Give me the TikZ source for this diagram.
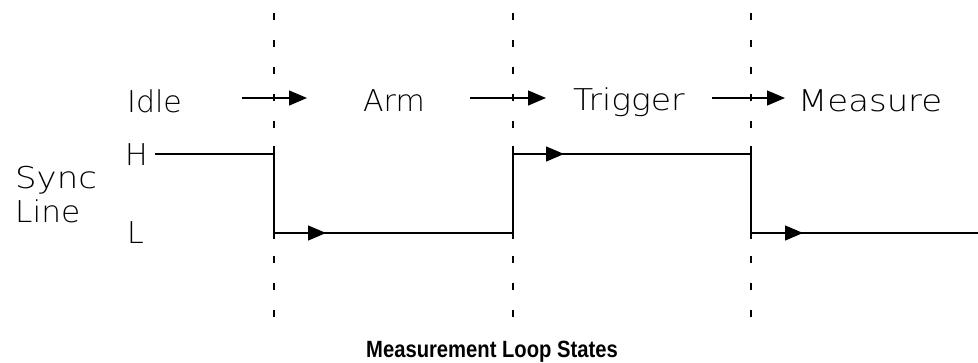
\documentclass[tikz,border=0pt]{standalone}
\usepackage{fontspec}
\setmainfont{DejaVu Sans}
\newfontfamily\plotfont{DejaVu Sans ExtraLight}
\newfontfamily\titlefont{Liberation Sans}
\usetikzlibrary{arrows.meta}
\newcommand{\wx}[2]{\scalebox{#1}[1]{#2}}
\begin{document}
\begin{tikzpicture}[x=1pt,y=-1pt,
  lbl/.style={font=\plotfont\fontsize{30}{30}\selectfont,anchor=base west,inner sep=0pt},
  guide/.style={line width=1.1pt,dash pattern=on 7pt off 20pt},
  sig/.style={line width=1.3pt},
  tri/.style={sig,-{Triangle[length=18pt,width=15pt]}}]
\useasboundingbox (0,0) rectangle (978,362);
% state boundaries
\foreach \n/\x in {a/274,b/513,c/751}{
  \coordinate (\n top) at (\x,13);
  \coordinate (\n bot) at (\x,320);
  \draw[guide] (\n top) -- (\n bot);
}
% state labels
\node[lbl] (idle) at (127,112) {Idle};
\node[lbl] (arm) at (363,111) {Arm};
\node[lbl] (trig) at (573,110) {\wx{1.1}{Trigger}};
\node[lbl] (meas) at (798,111) {\wx{1.13}{Measure}};
% transition arrows
\coordinate (t1s) at (242,98); \coordinate (t1e) at (307,98);
\coordinate (t2s) at (470,98); \coordinate (t2e) at (546,98);
\coordinate (t3s) at (712,98); \coordinate (t3e) at (785,98);
\draw[tri] (t1s) -- (t1e);
\draw[tri] (t2s) -- (t2e);
\draw[tri] (t3s) -- (t3e);
% level labels
\node[lbl] (sync) at (15,188) {\wx{1.13}{Sync}};
\node[lbl] (line) at (15,222) {\wx{1.04}{Line}};
\node[lbl] (H) at (125,165) {H};
\node[lbl] (L) at (127,243) {L};
% signal
\coordinate (s0) at (155,154);
\coordinate (s1) at (274,154);
\coordinate (s2) at (274,233);
\coordinate (s3) at (513,233);
\coordinate (s4) at (513,154);
\coordinate (s5) at (751,154);
\coordinate (s6) at (751,233);
\coordinate (s7) at (978,233);
\coordinate (m1) at (326,233);
\coordinate (m2) at (564,154);
\coordinate (m3) at (803,233);
\draw[sig] (s1) -- +(0,-8);
\draw[sig] (s4) -- +(0,-8);
\draw[sig] (s5) -- +(0,-8);
\draw[sig] (s0) -- (s1) -- (s2) -- (s3) -- (s4) -- (s5) -- (s6) -- (s7);
\draw[tri] (s2) -- (m1);
\draw[tri] (s4) -- (m2);
\draw[tri] (s6) -- (m3);
\draw[sig] (s2) -- +(0,6);
\draw[sig] (s3) -- +(0,6);
\draw[sig] (s6) -- +(0,6);
% title
\node[font=\titlefont\bfseries\fontsize{23.5}{23.5}\selectfont,anchor=base,inner sep=0pt] (title) at (492,357) {\scalebox{0.86}[1]{Measurement Loop States}};
\end{tikzpicture}
\end{document}
